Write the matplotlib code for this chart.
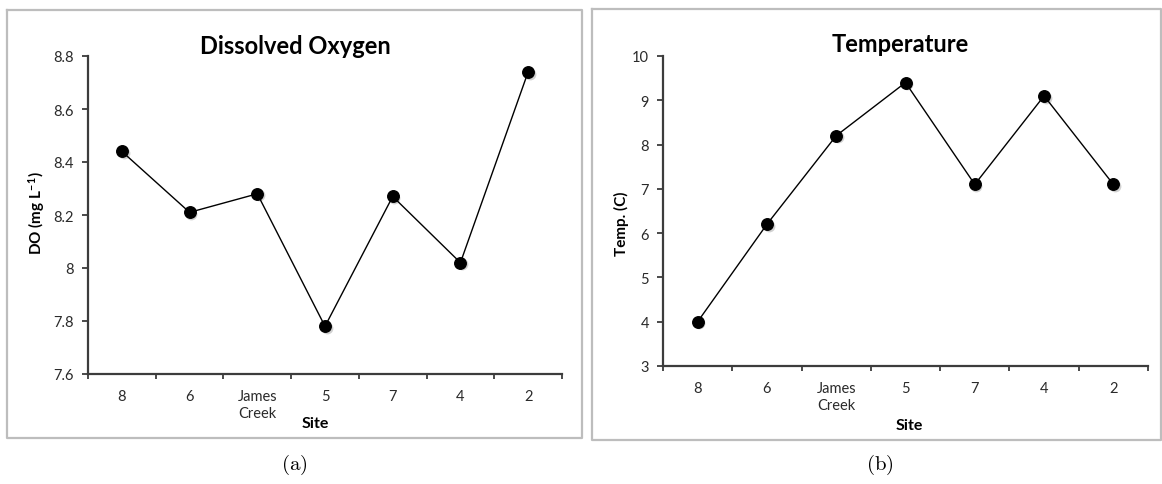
import matplotlib
matplotlib.use('Agg')
import matplotlib.pyplot as plt
import matplotlib.transforms as mtransforms
from matplotlib.lines import Line2D
import numpy as np

# site order along the creek
sites = ['8', '6', 'James\nCreek', '5', '7', '4', '2']

# dissolved oxygen (mg/L) and water temperature (C) per site
do_values = [8.44, 8.21, 8.28, 7.78, 8.27, 8.02, 8.74]
temp_values = [4.0, 6.2, 8.2, 9.4, 7.1, 9.1, 7.1]

do_ticks = [7.6, 7.8, 8.0, 8.2, 8.4, 8.6, 8.8]
temp_ticks = [3, 4, 5, 6, 7, 8, 9, 10]

W, H = 1162, 485
plt.rcParams['font.family'] = ['Lato', 'DejaVu Sans']
plt.rcParams['mathtext.fontset'] = 'cm'

fig = plt.figure(figsize=(W / 100, H / 100), dpi=100)
fig.patch.set_facecolor('white')


# convert pixel positions (from top-left) to figure fractions
def fx(px):
    return px / W


def fy(py):
    return 1 - py / H


def frame(x0, y0, x1, y1):
    # light grey chart border around each panel
    xs = [fx(x0), fx(x1), fx(x1), fx(x0), fx(x0)]
    ys = [fy(y0), fy(y0), fy(y1), fy(y1), fy(y0)]
    fig.add_artist(Line2D(xs, ys, color='#bdbdbd', lw=1.6, transform=fig.transFigure))


def panel(rect, values, ticks, ylim, title, ylabel, title_xy, ylabel_xy, xlabel_xy):
    ax = fig.add_axes(rect)
    x = np.arange(len(sites))
    # soft drop shadow under the markers
    shadow = mtransforms.offset_copy(ax.transData, fig=fig, x=1.2, y=-1.2, units='points')
    ax.plot(x, values, 'o', color='#9a9a9a', ms=8.5, alpha=0.45, mec='none',
            transform=shadow, zorder=2)
    ax.plot(x, values, '-', color='black', lw=1.0, zorder=3)
    ax.plot(x, values, 'o', color='black', ms=8.3, zorder=4)

    ax.set_xlim(-0.5, len(sites) - 0.5)
    ax.set_ylim(*ylim)
    for s in ['top', 'right']:
        ax.spines[s].set_visible(False)
    for s in ['left', 'bottom']:
        ax.spines[s].set_color('#3c3c3c')
        ax.spines[s].set_linewidth(1.6)

    # category boundaries carry the tick marks, labels sit between them
    ax.set_xticks(np.arange(-0.5, len(sites), 1.0))
    ax.set_xticklabels([])
    ax.set_xticks(x, minor=True)
    ax.set_xticklabels(sites, minor=True, fontsize=10.5, color='#2a2a2a', linespacing=1.25)
    ax.tick_params(axis='x', which='major', direction='out', length=3.5, width=1.3,
                   color='#3c3c3c')
    ax.tick_params(axis='x', which='minor', length=0, pad=11)

    ax.set_yticks(ticks)
    ax.set_yticklabels([f'{t:g}' for t in ticks], fontsize=10.5, color='#2a2a2a')
    ax.tick_params(axis='y', direction='out', length=4, width=1.3, color='#3c3c3c', pad=6)

    fig.text(fx(title_xy[0]), fy(title_xy[1]), title, ha='center', va='center',
             fontsize=17, fontweight='bold')
    fig.text(fx(ylabel_xy[0]), fy(ylabel_xy[1]), ylabel, ha='center', va='center',
             rotation=90, fontsize=11, fontweight='bold')
    fig.text(fx(xlabel_xy[0]), fy(xlabel_xy[1]), 'Site', ha='center', va='center',
             fontsize=11.5, fontweight='bold')
    return ax


panel([fx(88), fy(375), fx(562) - fx(88), fy(57) - fy(375)], do_values, do_ticks,
      (7.6, 8.8), 'Dissolved Oxygen', 'DO (mg L$^{\\mathregular{-1}}$)',
      (295, 46), (37, 213), (315, 424))
panel([fx(663), fy(367), fx(1148) - fx(663), fy(57) - fy(367)], temp_values, temp_ticks,
      (3, 10), 'Temperature', 'Temp. (C)',
      (900, 45), (621, 224), (909, 426))

frame(7, 11, 582, 439)
frame(592, 10, 1161, 441)

fig.text(fx(294), fy(465), r'$\mathrm{(a)}$', ha='center', va='center', fontsize=15)
fig.text(fx(880), fy(465), r'$\mathrm{(b)}$', ha='center', va='center', fontsize=15)

fig.savefig('out.png', dpi=100, facecolor='white')
